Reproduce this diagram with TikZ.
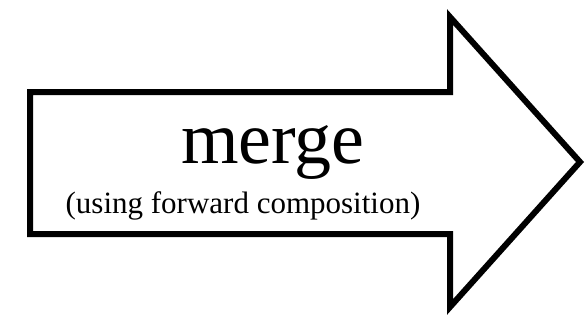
\documentclass[tikz,border=0pt]{standalone}
\usepackage{fontspec}
\setmainfont{Liberation Serif}
\begin{document}
\begin{tikzpicture}[x=1pt,y=1pt,
  arrowshape/.style={draw=black,line width=6pt,line join=miter,fill=white},
  bigtext/.style={font=\fontsize{74}{80}\selectfont,inner sep=0pt,anchor=base},
  subtext/.style={font=\fontsize{31}{34}\selectfont,inner sep=0pt,anchor=base}]
\useasboundingbox (0,0) rectangle (586,325);
\draw[arrowshape] (30,233) -- (450,233) -- (450,308) -- (580,163) -- (450,18) -- (450,91) -- (30,91) -- cycle;
\node[bigtext] (title) at (273,162) {merge};
\node[subtext] (sub) at (243,112) {(using forward composition)};
\end{tikzpicture}
\end{document}
